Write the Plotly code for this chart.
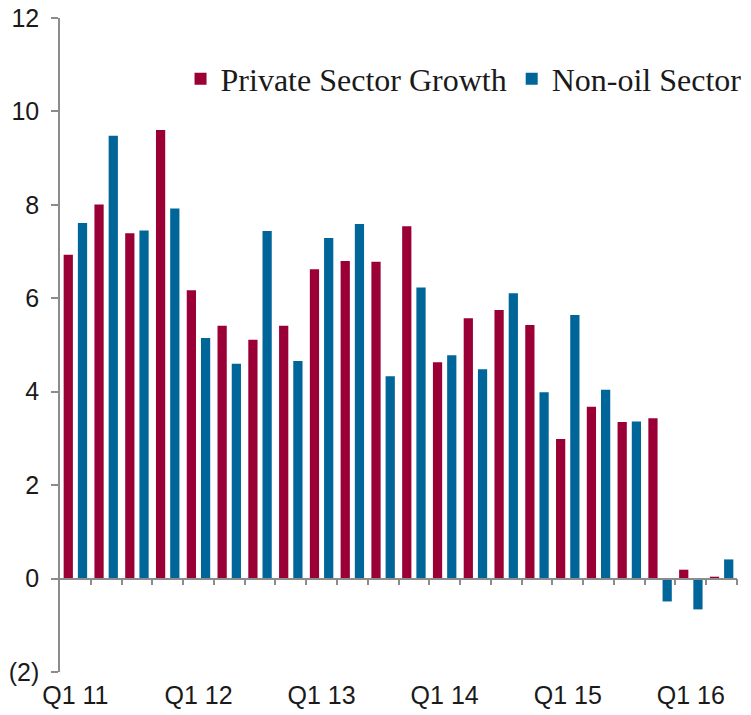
import plotly.graph_objects as go

quarters = ["Q1 11", "Q2 11", "Q3 11", "Q4 11",
            "Q1 12", "Q2 12", "Q3 12", "Q4 12",
            "Q1 13", "Q2 13", "Q3 13", "Q4 13",
            "Q1 14", "Q2 14", "Q3 14", "Q4 14",
            "Q1 15", "Q2 15", "Q3 15", "Q4 15",
            "Q1 16", "Q2 16"]
private_sector = [6.93, 8.01, 7.39, 9.60, 6.17, 5.41, 5.11, 5.41, 6.62, 6.80, 6.78,
                  7.54, 4.63, 5.57, 5.75, 5.43, 2.99, 3.68, 3.35, 3.43, 0.19, 0.04]
non_oil_sector = [7.61, 9.48, 7.45, 7.92, 5.15, 4.60, 7.44, 4.66, 7.29, 7.59, 4.33,
                  6.23, 4.78, 4.48, 6.11, 3.99, 5.64, 4.04, 3.36, -0.49, -0.66, 0.41]
x_labels = ["Q1 11", "Q1 12", "Q1 13", "Q1 14", "Q1 15", "Q1 16"]
y_ticks = [-2, 0, 2, 4, 6, 8, 10, 12]
y_tick_text = ["(2)", "0", "2", "4", "6", "8", "10", "12"]

RED = "#9a0036"
BLUE = "#006699"
AXIS = "#8c8c8c"
TEXT = "#1a1a1a"
y_min, y_max = -2, 12
n = len(quarters)

# the page body adds an 8px offset, so the figure is sized to fit the window
W, H = 743, 707

fig = go.Figure()
fig.add_trace(go.Bar(x=quarters, y=private_sector, name="Private Sector Growth",
                     marker=dict(color=RED, line=dict(width=0))))
fig.add_trace(go.Bar(x=quarters, y=non_oil_sector, name="Non-oil Sector",
                     marker=dict(color=BLUE, line=dict(width=0))))
# helper trace so the zero-line axis (with category boundary ticks) is drawn
fig.add_trace(go.Scatter(x=[None], y=[None], xaxis="x2", yaxis="y",
                         showlegend=False, hoverinfo="skip"))

fig.update_layout(
    width=W, height=H,
    margin=dict(l=52, r=14, t=10, b=43, autoexpand=False),
    paper_bgcolor="white", plot_bgcolor="white",
    barmode="group", bargap=0.076, bargroupgap=0.35,
    font=dict(family="Liberation Sans, Arial, sans-serif", color=TEXT, size=25),
    showlegend=True,
    legend=dict(orientation="h", xref="container", yref="container",
                x=0.994, xanchor="right", y=1 - 71 / H, yanchor="middle",
                font=dict(family="Liberation Serif, Times New Roman, serif", size=32, color=TEXT),
                bgcolor="rgba(0,0,0,0)", traceorder="normal", itemwidth=30),
    xaxis=dict(type="category", range=[-0.5, n - 0.5], tickmode="array",
               tickvals=x_labels, ticktext=x_labels, ticks="", showline=False,
               showgrid=False, zeroline=False, ticklabelstandoff=6,
               ticklabeloverflow="allow", tickfont=dict(size=25)),
    xaxis2=dict(overlaying="x", anchor="free", position=(0 - y_min) / (y_max - y_min),
                type="linear", range=[-0.5, n - 0.5], tickmode="array",
                tickvals=[k + 0.5 for k in range(n)], showticklabels=False,
                ticks="outside", ticklen=6, tickcolor=AXIS, tickwidth=1.5,
                showline=True, linecolor=AXIS, linewidth=1.5,
                showgrid=False, zeroline=False),
    yaxis=dict(range=[y_min, y_max], tickmode="array", tickvals=y_ticks,
               ticktext=y_tick_text, ticks="outside", ticklen=7, tickcolor=AXIS,
               tickwidth=1.5, showline=True, linecolor=AXIS, linewidth=1.5,
               showgrid=False, zeroline=False, ticklabelstandoff=7,
               ticklabeloverflow="allow", tickfont=dict(size=25)),
)

fig.write_html("out.html")
